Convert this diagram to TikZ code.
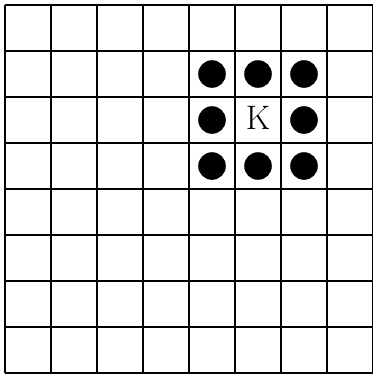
\documentclass[tikz,border=0pt]{standalone}
\usepackage{tikz}
\tikzset{
  board/.style={line width=1.6pt},
  piece/.style={circle,fill=black,draw=none,minimum size=.6cm,inner sep=0pt},
  king/.style={inner sep=0pt,font=\fontsize{21}{23}\selectfont},
}

\begin{document}
\begin{tikzpicture}
			\useasboundingbox (-0.109,-0.065) rectangle (7.978,8.109);
			\draw[board] (0,0) grid (8,8);
			\node[king] (k) at (5.5,5.55) {K};
			\node[piece] (nw) at (4.5,6.5) {};
			\node[piece] (n) at (5.5,6.5) {};
			\node[piece] (ne) at (6.5,6.5) {};
			\node[piece] (w) at (4.5,5.5) {};
			\node[piece] (e) at (6.5,5.5) {};
			\node[piece] (sw) at (4.5,4.5) {};
			\node[piece] (s) at (5.5,4.5) {};
			\node[piece] (se) at (6.5,4.5) {};
		\end{tikzpicture}
\end{document}
